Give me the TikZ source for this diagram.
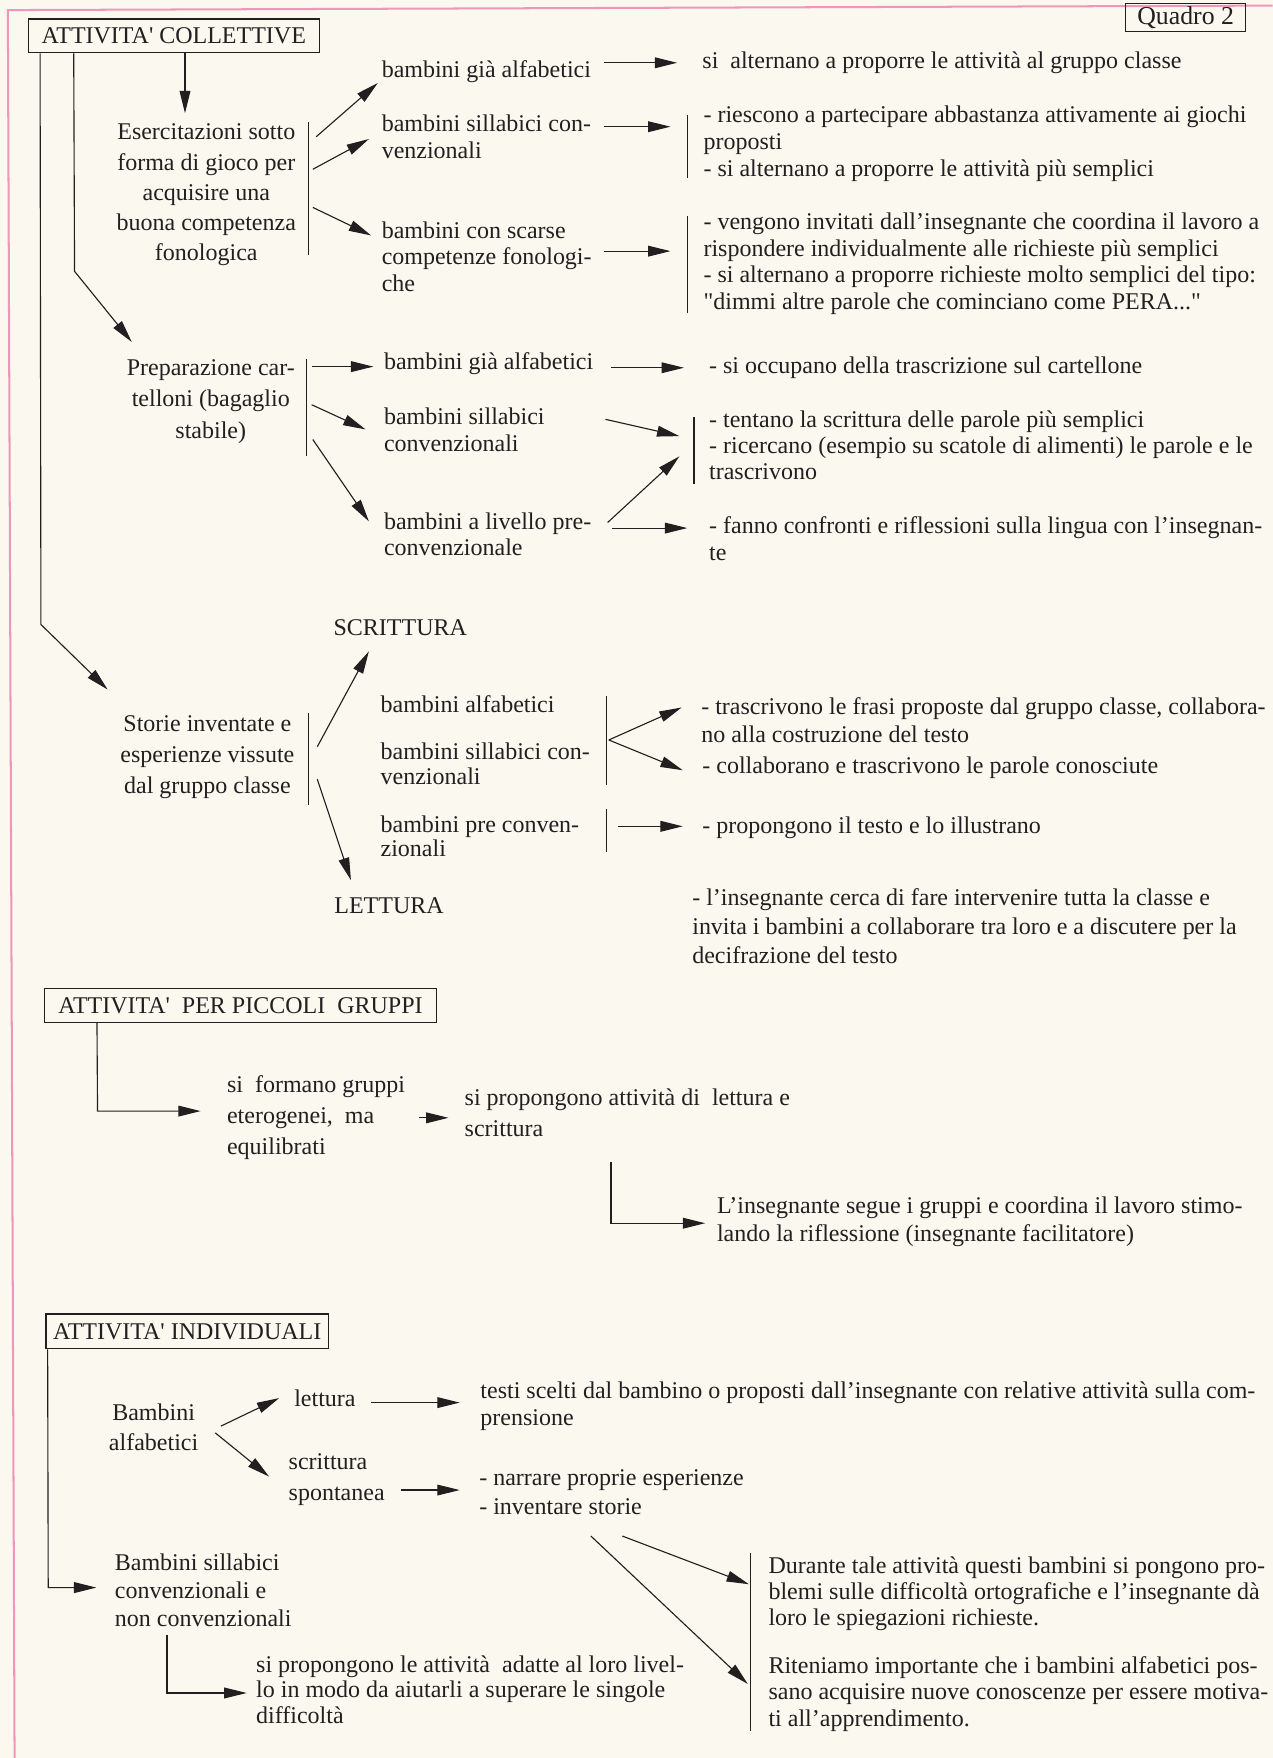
\documentclass[tikz,border=0pt]{standalone}
\usepackage{fontspec}
\setmainfont{Liberation Serif}
\newfontfamily\dritto{Liberation Serif}
\usetikzlibrary{arrows.meta}

\definecolor{carta}{RGB}{251,248,240}
\definecolor{rosa}{RGB}{240,150,185}
\definecolor{inchiostro}{RGB}{35,31,32}
\newcommand{\righe}[1]{\fontsize{10.7}{#1}\selectfont}

\begin{document}
\begin{tikzpicture}[x=0.5pt, y=-0.5pt, line width=0.5pt, color=inchiostro,
    testo/.style={inner sep=0pt, align=left, anchor=north west, font=\righe{12}},
    riga/.style={inner sep=0pt, anchor=west, font=\righe{12}},
    centrato/.style={inner sep=0pt, align=center, anchor=north},
    titolo/.style={draw, inner sep=0pt, font=\righe{12}},
    freccia/.style={-{Triangle[length=10pt,width=4.8pt]}}]
    \useasboundingbox (0,0) rectangle (1135,1568);
    \fill[carta] (0,0) rectangle (1135,1568);
    \draw[rosa, line width=0.9pt] (1135,5) -- (7,9) -- (13,1568);

    \node[titolo, minimum width=53.5pt, minimum height=12.5pt,
          font=\fontsize{11.5}{12}\selectfont] (quadro) at (1057.5,15.5) {Quadro 2};

    % attivita' collettive
    \node[titolo, minimum width=129.75pt, minimum height=15pt] (coll) at (155,32)
        {ATTIVITA{\dritto'} COLLETTIVE};

    \node[centrato, font=\righe{13.5}] (eserc) at (184,110)
        {Esercitazioni sotto\\forma di gioco per\\acquisire una\\buona competenza\\fonologica};
    \draw (275,109) -- (275,227);
    \node[riga] (gia1) at (340,64) {bambini già alfabetici};
    \node[testo] (sill1) at (340,102) {bambini sillabici con-\\venzionali};
    \node[testo] (scarse) at (340,197) {bambini con scarse\\competenze fonologi-\\che};
    \node[riga] (alterna) at (626,56) {si~ alternano a proporre le attività al gruppo classe};
    \draw (613,103) -- (613,159);
    \node[testo] (riescono) at (627,94)
        {- riescono a partecipare abbastanza attivamente ai giochi\\proposti\\- si alternano a proporre le attività più semplici};
    \draw (613,193) -- (613,279);
    \node[testo] (vengono) at (627,189)
        {- vengono invitati dall’insegnante che coordina il lavoro a\\rispondere individualmente alle richieste più semplici\\- si alternano a proporre richieste molto semplici del tipo:\\{\dritto"}dimmi altre parole che cominciano come PERA...{\dritto"}};

    % preparazione cartelloni
    \node[centrato, font=\righe{14}] (prep) at (188,320) {Preparazione car-\\telloni (bagaglio\\stabile)};
    \draw (273,320) -- (273,407);
    \node[riga] (gia2) at (342,324) {bambini già alfabetici};
    \node[testo] (sill2) at (342,363) {bambini sillabici\\convenzionali};
    \node[testo, font=\righe{11.5}] (pre2) at (342,457) {bambini a livello pre-\\convenzionale};
    \node[riga] (occupano) at (632,328) {- si occupano della trascrizione sul cartellone};
    \draw (619,372) -- (619,432);
    \node[testo, font=\righe{11.5}] (tentano) at (632,366)
        {- tentano la scrittura delle parole più semplici\\- ricercano (esempio su scatole di alimenti) le parole e le\\trascrivono};
    \node[testo] (confronti) at (632,460)
        {- fanno confronti e riflessioni sulla lingua con l’insegnan-\\te};

    % storie inventate
    \node[centrato, font=\righe{13.75}] (storie) at (185,638) {Storie inventate e\\esperienze vissute\\dal gruppo classe};
    \draw (275,636) -- (275,718);
    \node[inner sep=0pt, font=\righe{12}] (scritt) at (357,560) {SCRITTURA};
    \node[inner sep=0pt, font=\righe{12}] (lett) at (347,808) {LETTURA};
    \node[riga] (alf3) at (339,628) {bambini alfabetici};
    \node[testo, font=\righe{11}] (sill3) at (339,662) {bambini sillabici con-\\venzionali};
    \node[testo, font=\righe{11}] (pre3) at (339,727) {bambini pre conven-\\zionali};
    \draw (541,621) -- (541,700);
    \draw (541,722) -- (541,760);
    \node[testo, font=\righe{12.5}] (trascr) at (625,622)
        {- trascrivono le frasi proposte dal gruppo classe, collabora-\\no alla costruzione del testo};
    \node[riga] (collab) at (626,685) {- collaborano e trascrivono le parole conosciute};
    \node[riga] (propong) at (626,738) {- propongono il testo e lo illustrano};
    \node[testo, font=\righe{13}] (insegn) at (617,792)
        {- l’insegnante cerca di fare intervenire tutta la classe e\\invita i bambini a collaborare tra loro e a discutere per la\\decifrazione del testo};

    % attivita' per piccoli gruppi
    \node[titolo, minimum width=174.5pt, minimum height=15pt] (piccoli) at (214.5,897)
        {ATTIVITA{\dritto'}~ PER PICCOLI~ GRUPPI};
    \node[testo, font=\righe{13.75}] (formano) at (202,959) {si~ formano gruppi\\eterogenei,~ ma\\equilibrati};
    \node[testo, font=\righe{13.5}] (propatt) at (414,971) {si propongono attività di~ lettura e\\scrittura};
    \node[testo, font=\righe{12.5}] (segue) at (639,1067)
        {L’insegnante segue i gruppi e coordina il lavoro stimo-\\lando la riflessione (insegnante facilitatore)};

    % attivita' individuali
    \node[titolo, minimum width=126pt, minimum height=15.5pt] (indiv) at (167,1187.5)
        {ATTIVITA{\dritto'} INDIVIDUALI};
    \node[centrato, font=\righe{13}] (alfab) at (137,1252) {Bambini\\alfabetici};
    \node[riga] (lettura) at (262,1247) {lettura};
    \node[testo, font=\righe{14}] (scrittura) at (257,1296) {scrittura\\spontanea};
    \node[testo] (testi) at (428,1232)
        {testi scelti dal bambino o proposti dall’insegnante con relative attività sulla com-\\prensione};
    \node[testo, font=\righe{13}] (narrare) at (427,1310) {- narrare proprie esperienze\\- inventare storie};
    \node[testo, font=\righe{12.5}] (sillab) at (102,1385) {Bambini sillabici\\convenzionali e\\non convenzionali};
    \node[testo, font=\righe{11.5}] (adatte) at (228,1476)
        {si propongono le attività~ adatte al loro livel-\\lo in modo da aiutarli a superare le singole\\difficoltà};
    \draw (669,1385) -- (669,1544);
    \node[testo, font=\righe{11.5}] (durante) at (685,1388)
        {Durante tale attività questi bambini si pongono pro-\\blemi sulle difficoltà ortografiche e l’insegnante dà\\loro le spiegazioni richieste.};
    \node[testo, font=\righe{11.75}] (riteniamo) at (685,1477)
        {Riteniamo importante che i bambini alfabetici pos-\\sano acquisire nuove conoscenze per essere motiva-\\ti all’apprendimento.};

    % punti delle frecce
    \path (282,122) coordinate (e1) (337,74) coordinate (e1t)
          (279,151) coordinate (e2) (329,124) coordinate (e2t)
          (279,185) coordinate (e3) (331,210) coordinate (e3t)
          (539,56) coordinate (f1) (604,56) coordinate (f1t)
          (539,113) coordinate (f2) (598,113) coordinate (f2t)
          (539,224) coordinate (f3) (598,224) coordinate (f3t);
    \path (278,327) coordinate (p1) (333,327) coordinate (p1t)
          (278,361) coordinate (p2) (326,383) coordinate (p2t)
          (279,392) coordinate (p3) (329,465) coordinate (p3t)
          (545,328) coordinate (g1) (610,328) coordinate (g1t)
          (540,374) coordinate (g2) (606,389) coordinate (g2t)
          (542,466) coordinate (g3) (606,407) coordinate (g3t)
          (546,471) coordinate (g4) (613,471) coordinate (g4t);
    \path (283,666) coordinate (s1) (329,581) coordinate (s1t)
          (283,695) coordinate (s2) (313,785) coordinate (s2t)
          (543,660) coordinate (h1) (608,631) coordinate (h1t)
          (543,660) coordinate (h2) (609,687) coordinate (h2t)
          (551,737) coordinate (h3) (609,737) coordinate (h3t);
    \path (374,997) coordinate (m2) (400,997) coordinate (m2t)
          (197,1272) coordinate (i1) (249,1247) coordinate (i1t)
          (192,1278) coordinate (i2) (240,1317) coordinate (i2t)
          (331,1251) coordinate (i3) (410,1251) coordinate (i3t)
          (358,1329) coordinate (i4) (410,1329) coordinate (i4t)
          (555,1370) coordinate (i6) (668,1413) coordinate (i6t)
          (527,1370) coordinate (i7) (667,1502) coordinate (i7t);
    \path (36.5,557) coordinate (k1) (96,615) coordinate (k1t)
          (66.5,242) coordinate (k2) (117.5,305) coordinate (k2t)
          (165,101) coordinate (k3t)
          (87,991) coordinate (m1) (179,991) coordinate (m1t)
          (545,1036) coordinate (m3) (545,1091) coordinate (m3b) (629,1091) coordinate (m3t)
          (43,1416) coordinate (i0) (86,1416) coordinate (i0t)
          (149,1458) coordinate (i5) (149,1510) coordinate (i5b) (220,1510) coordinate (i5t);

    \foreach \a/\b in {e1/e1t, e2/e2t, e3/e3t, f1/f1t, f2/f2t, f3/f3t,
                       p1/p1t, p2/p2t, p3/p3t, g1/g1t, g2/g2t, g3/g3t, g4/g4t,
                       s1/s1t, s2/s2t, h1/h1t, h2/h2t, h3/h3t, m2/m2t,
                       i1/i1t, i2/i2t, i3/i3t, i4/i4t, i6/i6t, i7/i7t}
        \draw[freccia] (\a) -- (\b);

    \draw[freccia] ([xshift=5pt]coll.south) -- (k3t);
    \draw[freccia] ([xshift=5.5pt]coll.south west) -- (k1) -- (k1t);
    \draw[freccia] ([xshift=20.5pt]coll.south west) -- (k2) -- (k2t);
    \draw[freccia] ([xshift=23.5pt]piccoli.south west) -- (m1) -- (m1t);
    \draw[freccia] (m3) -- (m3b) -- (m3t);
    \draw[freccia] ([xshift=1pt]indiv.south west) -- (i0) -- (i0t);
    \draw[freccia] (i5) -- (i5b) -- (i5t);
\end{tikzpicture}
\end{document}
